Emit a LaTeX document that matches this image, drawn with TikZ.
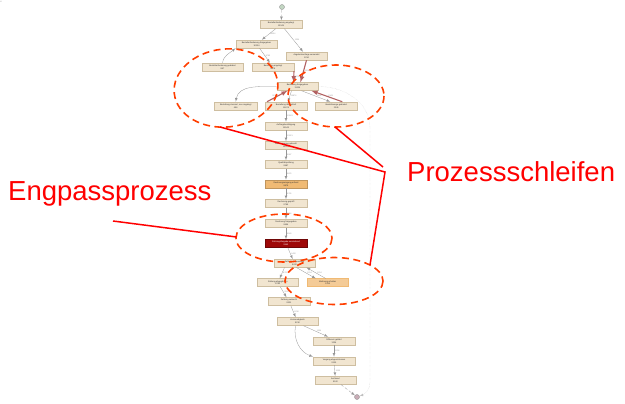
\documentclass[tikz,border=0pt]{standalone}
\usepackage{fontspec}
\setmainfont{Liberation Sans}
\usetikzlibrary{arrows}

\definecolor{actfill}{RGB}{241,229,208}
\definecolor{actline}{RGB}{206,190,160}
\definecolor{warmfill}{RGB}{240,186,116}
\definecolor{bottleneck}{RGB}{158,8,8}
\definecolor{hotedge}{RGB}{178,98,98}
\definecolor{flowgray}{RGB}{150,150,150}
\definecolor{loopred}{RGB}{255,62,0}

\tikzset{
  act/.style={draw=actline, fill=actfill, line width=0.5pt, minimum width=41.5pt, minimum height=8pt,
    inner sep=0pt, align=center, font=\fontsize{2.1}{2.6}\selectfont, text=black!80},
  flow/.style={-latex, draw=flowgray, line width=0.3pt},
  hot/.style={-latex, draw=hotedge, line width=1.1pt},
  cnt/.style={font=\fontsize{2}{2.2}\selectfont, text=flowgray, inner sep=1pt},
  loopmark/.style={draw=loopred, line width=1.6pt, dash pattern=on 7pt off 4.5pt},
  callout/.style={draw=red, line width=1.5pt},
  note/.style={text=red, font=\fontsize{27.5}{30}\selectfont, inner sep=0pt}
}

\begin{document}
\begin{tikzpicture}[x=1pt, y=-1pt]
\useasboundingbox (0,0) rectangle (625,404);

%Activities
\node[circle, draw=flowgray, fill=green!20!gray!40, minimum size=5pt, inner sep=0pt] (start) at (282,7) {};
\node[act] (banf) at (281,24.5) {Bestellanforderung angelegt\\12345};
\node[act] (banffrei) at (256.5,44) {Bestellanforderung freigegeben\\10234};
\node[act] (anfrage) at (306.5,56) {Angebotsanfrage versendet\\1234};
\node[act] (banfaend) at (222.5,67) {Bestellanforderung geändert\\987};
\node[act] (bestanl) at (273,67) {Bestellung angelegt\\9876};
\node[act] (bestfrei) at (297.5,86.5) {Bestellung freigegeben\\11234};
\node[act, minimum width=43pt] (storno) at (235.7,106) {Bestellung storniert, neu angelegt\\456};
\node[act] (uebermit) at (286,106) {Bestellung übermittelt\\10876};
\node[act] (menge) at (336.3,106) {Bestellmenge geändert\\2345};
\node[act] (abest) at (286,126) {Auftragsbestätigung\\10543};
\node[act] (weingang) at (286,145.5) {Wareneingang gebucht\\10321};
\node[act] (pruefung) at (286,164.5) {Qualitätsprüfung\\9987};
\node[act, fill=warmfill, draw=warmfill!80!black] (reingang) at (286,184) {Rechnungseingang erfasst\\9876};
\node[act] (rpruef) at (286,203.5) {Rechnung geprüft\\9765};
\node[act] (rfrei) at (286,223.3) {Rechnung freigegeben\\9654};
\node[act, fill=bottleneck, draw=bottleneck!70!black, text=white] (zfrei) at (286,243.5) {Zahlungsfreigabe ausstehend\\9543};
\node[act] (zanw) at (294.5,263.3) {Zahlung angewiesen\\9432};
\node[act] (zabgl) at (277.8,282.7) {Zahlung abgeglichen\\8765};
\node[act, fill=warmfill!75!white, draw=warmfill] (mahnung) at (327.7,282.7) {Mahnung erhalten\\1234};
\node[act] (zverb) at (289,301.5) {Zahlung verbucht\\9321};
\node[act] (konto) at (297.5,321.5) {Kontenabgleich\\9210};
\node[act] (diff) at (334,341) {Differenz geklärt\\1234};
\node[act] (abschl) at (334,361) {Vorgang abgeschlossen\\9100};
\node[act] (archiv) at (335.5,380.3) {Archiviert\\9100};
\node[circle, draw=flowgray, fill=purple!30!gray!50, minimum size=5pt, inner sep=0pt] (end) at (357,397) {};
\coordinate (side) at (370,128);
\coordinate (sidelow) at (370,382);

%Flows
\draw[flow, densely dashed] (start) -- (banf);
\draw[flow] (banf) -- (banffrei) node[cnt, midway, right] {10234};
\draw[flow] (banf) -- (anfrage) node[cnt, midway, right] {1234};
\draw[flow] (banfaend.north) to[out=80, in=220] (banffrei.south west) node[cnt, pos=0.4, right] {987};
\draw[flow] (banffrei) -- (bestanl) node[cnt, midway, right] {8765};
\draw[hot] (bestanl.south east) -- ([xshift=-4pt]bestfrei.north) node[cnt, midway, right] {8765};
\draw[hot] (anfrage.south) -- ([xshift=3pt]bestfrei.north) node[cnt, midway, right] {1234};
\draw[flow] (bestfrei.west) to[out=180, in=80] (storno.north) node[cnt, pos=0.4, below] {456};
\draw[hot] ([xshift=2pt]uebermit.north west) -- ([xshift=-10pt]bestfrei.south) node[cnt, midway, left] {321};
\draw[flow] ([xshift=-6pt]bestfrei.south) -- ([xshift=2pt]uebermit.north) node[cnt, midway, right] {10876};
\draw[flow] ([xshift=4pt]bestfrei.south) -- ([xshift=-6pt]menge.north) node[cnt, midway, right] {2345};
\draw[hot] ([xshift=6pt]menge.north) -- ([xshift=14pt]bestfrei.south) node[cnt, midway, right] {2345};
\draw[flow, densely dotted, draw=flowgray!60] (bestfrei.east) to[out=0, in=90] (side) -- (sidelow) to[out=-90, in=20] (end);
\draw[flow] (uebermit) -- (abest) node[cnt, midway, right] {10543};
\draw[flow] (abest) -- (weingang) node[cnt, midway, right] {10321};
\draw[flow] (weingang) -- (pruefung) node[cnt, midway, right] {9987};
\draw[flow] (pruefung) -- (reingang) node[cnt, midway, right] {9876};
\draw[flow] (reingang) -- (rpruef) node[cnt, midway, right] {9765};
\draw[flow] (rpruef) -- (rfrei) node[cnt, midway, right] {9654};
\draw[flow] (rfrei) -- (zfrei) node[cnt, midway, right] {9543};
\draw[flow] (zfrei) -- (zanw) node[cnt, midway, right] {9432};
\draw[flow] ([xshift=-10pt]zanw.south) -- (zabgl) node[cnt, midway, right] {8765};
\draw[flow] ([xshift=2pt]zanw.south) -- ([xshift=-12pt]mahnung.north) node[cnt, midway, right] {1234};
\draw[flow] ([xshift=-2pt]mahnung.north) -- ([xshift=12pt]zanw.south) node[cnt, midway, right] {1234};
\draw[flow] (zabgl) -- (zverb) node[cnt, midway, right] {9321};
\draw[flow] (zverb) -- (konto) node[cnt, midway, right] {9210};
\draw[flow] ([xshift=6pt]konto.south) -- ([xshift=-6pt]diff.north) node[cnt, midway, right] {1234};
\draw[flow] ([xshift=-2pt]konto.south) to[out=-100, in=160] (abschl.north west) node[cnt, pos=0.4, left] {7866};
\draw[flow] (diff) -- (abschl) node[cnt, midway, right] {1234};
\draw[flow] (abschl) -- (archiv) node[cnt, midway, right] {9100};
\draw[flow, densely dashed] (archiv) -- (end);

%Markings
\draw[loopmark] (226,88) ellipse [x radius=52, y radius=39, rotate=6];
\draw[loopmark] (336,96) ellipse [x radius=48, y radius=31];
\draw[loopmark] (284,238) ellipse [x radius=48, y radius=24];
\draw[loopmark] (334,281) ellipse [x radius=49, y radius=23.5];

\node[note, anchor=west] (engpass) at (8,194) {Engpassprozess};
\node[note, anchor=west] (schleifen) at (407,172) {Prozessschleifen};
\coordinate (engfoot) at (113,221);
\coordinate (engtip) at (236.5,237);
\coordinate (jointlow) at (385,172);
\coordinate (jointup) at (383,167);
\coordinate (leftloop) at (220,127);
\coordinate (rightloop) at (335,127);
\coordinate (lowloop) at (370,265);
\draw[callout] (engfoot) -- (engtip);
\draw[callout] (leftloop) -- (jointlow) -- (lowloop);
\draw[callout] (rightloop) -- (jointup);

\end{tikzpicture}
\end{document}
